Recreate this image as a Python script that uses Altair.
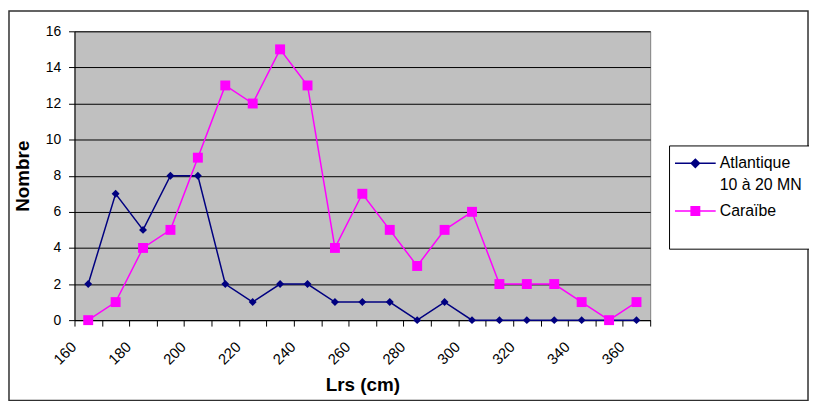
import altair as alt
import pandas as pd

# ---- data ----
lengths = [160, 170, 180, 190, 200, 210, 220, 230, 240, 250, 260,
           270, 280, 290, 300, 310, 320, 330, 340, 350, 360]
atlantique = [2, 7, 5, 8, 8, 2, 1, 2, 2, 1, 1, 1, 0, 1, 0, 0, 0, 0, 0, 0, 0]
caraibe = [0, 1, 4, 5, 9, 13, 12, 15, 13, 4, 7, 5, 3, 5, 6, 2, 2, 2, 1, 0, 1]
series_names = ["Atlantique 10 à 20 MN", "Caraïbe"]
series_colors = ["#000080", "#FF00FF"]
# legend symbols: line segment with the series marker (unit = 10 px)
legend_symbols = [
    "M-1.2,-0.075H2.9V0.075H-1.2Z M0.85,-0.52L1.37,0L0.85,0.52L0.33,0Z",
    "M-1.2,-0.075H2.9V0.075H-1.2Z M0.35,-0.5H1.35V0.5H0.35Z",
]
x_label_values = [160, 180, 200, 220, 240, 260, 280, 300, 320, 340, 360]
x_tick_values = [155, 165, 175, 185, 195, 205, 215, 225, 235, 245, 255,
                 265, 275, 285, 295, 305, 315, 325, 335, 345, 355, 365]
y_tick_values = [0, 2, 4, 6, 8, 10, 12, 14, 16]

df = pd.DataFrame({
    "Lrs": lengths + lengths,
    "Nombre": atlantique + caraibe,
    "serie": [series_names[0]] * len(lengths) + [series_names[1]] * len(lengths),
})

FONT = "Liberation Sans"
W, H = 580, 291
PAD_L, PAD_T = 67, 22
TOTAL_W, TOTAL_H = 807, 395

xscale = alt.Scale(domain=[155, 365], nice=False, zero=False)
yscale = alt.Scale(domain=[0, 16], nice=False, zero=True)
cscale = alt.Scale(domain=series_names, range=series_colors)

y_enc = alt.Y(
    "Nombre:Q", scale=yscale,
    axis=alt.Axis(values=y_tick_values, grid=True, gridColor="black", gridWidth=1,
                  gridOpacity=1, domain=True, domainColor="black", ticks=True,
                  tickColor="black", tickSize=6, labelFontSize=14, labelFont=FONT,
                  labelColor="black", labelPadding=8, title="Nombre",
                  titleFont=FONT, titleFontSize=19, titleFontWeight="bold",
                  titleColor="black", titleX=-52, titleY=H / 2, titleAngle=-90,
                  titleAlign="center", titleBaseline="middle"),
)

legend_def = alt.Legend(
    title=None, orient="none", legendX=599, legendY=115,
    symbolSize=400, symbolOpacity=1, symbolStrokeWidth=0,
    labelFont=FONT, labelFontSize=16, labelColor="black",
    labelOffset=23, labelLimit=300, labelBaseline="middle",
    padding=8, rowPadding=8,
    strokeColor="black", fillColor="white",
    labelExpr="indexof(datum.label, 'Atlantique') >= 0 ? ['Atlantique', '10 à 20 MN'] : [datum.label, ' ']",
)

color_enc = alt.Color("serie:N", scale=cscale, sort=series_names, legend=legend_def)

base = alt.Chart(df)

# invisible layer that carries the legend (line + marker symbols)
legend_layer = base.mark_point(filled=True, opacity=0).encode(
    x=alt.X("Lrs:Q", scale=xscale, axis=None),
    y=y_enc,
    color=color_enc,
    shape=alt.Shape("serie:N", scale=alt.Scale(domain=series_names, range=legend_symbols),
                    sort=series_names, legend=legend_def),
)

lines = base.mark_line(strokeWidth=1.5).encode(
    x=alt.X("Lrs:Q", scale=xscale,
            axis=alt.Axis(values=x_tick_values, labels=False, ticks=True, tickSize=6,
                          tickColor="black", domain=True, domainColor="black",
                          grid=False, title=None, orient="bottom")),
    y=y_enc,
    color=color_enc,
)

pts_atl = base.transform_filter(alt.datum.serie == series_names[0]).mark_point(
    shape="diamond", size=64, filled=True, opacity=1
).encode(
    x=alt.X("Lrs:Q", scale=xscale,
            axis=alt.Axis(values=x_label_values, ticks=False, tickSize=0, domain=False,
                          grid=False, labelAngle=-45, labelAlign="right",
                          labelBaseline="middle", labelPadding=24, labelOffset=-15,
                          labelFont=FONT, labelFontSize=15, labelColor="black",
                          title="Lrs (cm)", titleFont=FONT, titleFontSize=19,
                          titleFontWeight="bold", titleColor="black",
                          titleX=290, titleY=65, titleAlign="center",
                          titleBaseline="middle", orient="bottom")),
    y=y_enc,
    color=color_enc,
)

pts_car = base.transform_filter(alt.datum.serie == series_names[1]).mark_point(
    shape="square", size=100, filled=True, opacity=1
).encode(
    x=alt.X("Lrs:Q", scale=xscale, axis=None),
    y=y_enc,
    color=color_enc,
)

frame = alt.Chart(pd.DataFrame({"f": [0]})).mark_rect(
    fill=None, stroke="#303030", strokeWidth=1.5
).encode(
    x=alt.value(-PAD_L + 1), x2=alt.value(TOTAL_W - PAD_L - 1),
    y=alt.value(-PAD_T + 1.5), y2=alt.value(TOTAL_H - PAD_T - 1),
)

chart = alt.layer(legend_layer, lines, pts_atl, pts_car, frame).resolve_axis(
    x="independent"
).properties(
    width=W, height=H,
    autosize=alt.AutoSizeParams(type="none"),
    padding={"left": PAD_L, "top": PAD_T, "right": TOTAL_W - PAD_L - W,
             "bottom": TOTAL_H - PAD_T - H},
    background="white",
).configure(
    style={"guide-label": {"lineHeight": 22}}
).configure_view(
    fill="#C0C0C0", stroke="#808080", strokeWidth=1
)

chart.save("out.html", embed_options={"renderer": "svg", "actions": False})
